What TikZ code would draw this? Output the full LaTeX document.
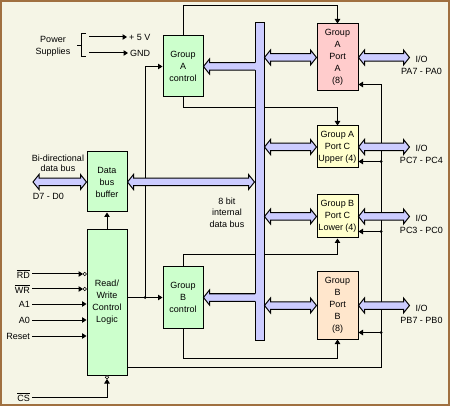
\documentclass[tikz,border=0pt]{standalone}
\usepackage{fontspec}
\setmainfont{Liberation Sans}
\usetikzlibrary{arrows.meta,calc,positioning}
\definecolor{paper}{RGB}{245,245,230}
\definecolor{framebrown}{RGB}{160,112,64}
\definecolor{ctlgreen}{RGB}{204,255,204}
\definecolor{portpink}{RGB}{255,204,204}
\definecolor{portyellow}{RGB}{255,255,204}
\definecolor{portpeach}{RGB}{255,230,204}
\definecolor{busblue}{RGB}{204,204,255}

\begin{document}
\begin{tikzpicture}[x=1pt, y=-1pt, font=\fontsize{9}{12}\selectfont,
    box/.style={draw, line width=1pt, minimum width=40pt, align=center, inner sep=1pt},
    port/.style={box, minimum width=41pt},
    wire/.style={line width=1pt},
    sig/.style={wire, -{Triangle[length=4.5pt,width=5.5pt]}},
    lbl/.style={inner sep=2pt, align=center},
    bubble/.style={circle, draw, fill=paper, inner sep=0pt, minimum size=3.5pt, line width=0.7pt},
    dot/.style={circle, fill, inner sep=0pt, minimum size=3pt}]
  \useasboundingbox (0,0) rectangle (450,406);
  \fill[paper] (0,0) rectangle (450,406);
  \draw[framebrown, line width=2pt] (1,1) rectangle (449,405);
  \newcommand{\biarrow}[2]{
    \filldraw[wire, fill=busblue] (#1) -- ($(#1)+(6,-7.5)$) -- ($(#1)+(6,-3.75)$) -- ($(#2)+(-6,-3.75)$) -- ($(#2)+(-6,-7.5)$)
      -- (#2) -- ($(#2)+(-6,7.5)$) -- ($(#2)+(-6,3.75)$) -- ($(#1)+(6,3.75)$) -- ($(#1)+(6,7.5)$) -- cycle;
  }
  \newcommand{\busarrow}[2]{
    \fill[busblue] ($(#1)+(2,-3.75)$) -- ($(#2)+(6,-3.75)$) -- ($(#2)+(6,-7.5)$) -- (#2) -- ($(#2)+(6,7.5)$) -- ($(#2)+(6,3.75)$) -- ($(#1)+(2,3.75)$) -- cycle;
    \draw[wire] ($(#1)+(0.5,-3.75)$) -- ($(#2)+(6,-3.75)$) -- ($(#2)+(6,-7.5)$) -- (#2) -- ($(#2)+(6,7.5)$) -- ($(#2)+(6,3.75)$) -- ($(#1)+(0.5,3.75)$);
  }
  \node[box, fill=ctlgreen, minimum height=61pt] (grpactl) at (183,66.5) {Group\\A\\control};
  \node[box, fill=ctlgreen, minimum height=61pt] (grpbctl) at (183,297.5) {Group\\B\\control};
  \node[box, fill=ctlgreen, minimum height=60pt] (buffer) at (107,182) {Data\\bus\\buffer};
  \node[box, fill=ctlgreen, minimum height=145pt] (rwlogic) at (107,302.5) {Read/\\Write\\Control\\Logic};
  \node[port, fill=portpink, minimum height=67pt] (portA) at (337.5,57.5) {Group\\A\\Port\\A\\(8)};
  \node[port, fill=portyellow, minimum height=42pt] (portCU) at (337.5,147) {Group A\\Port C\\Upper (4)};
  \node[port, fill=portyellow, minimum height=43pt] (portCL) at (337.5,216.5) {Group B\\Port C\\Lower (4)};
  \node[port, fill=portpeach, minimum height=67pt] (portB) at (337.5,305.5) {Group\\B\\Port\\B\\(8)};

  \draw[sig] (grpactl.north) -- ++(0,-30) -| (portA.north);
  \draw[sig] (grpactl.south) -- ++(0,10) -| (portCU.north);
  \draw[sig] (grpbctl.north) -- ++(0,-12) -| (portCL.south);
  \draw[sig] (grpbctl.south) -- ++(0,30) -| (portB.south);

  \coordinate (fork) at ($(rwlogic.east |- grpbctl.west)!0.5!(grpbctl.west)$);
  \draw[sig] (rwlogic.east |- grpbctl.west) -- (grpbctl.west);
  \draw[sig] (fork) |- (grpactl.west);
  \node[dot] at (fork) {};
  \draw[sig] (rwlogic.north) -- (buffer.south);

  \coordinate (ret) at (381,367);
  \draw[sig] (rwlogic.east |- ret) -- (ret) |- ($(portA.south east)+(0,-7)$);
  \foreach \p in {portCU, portCL, portB} {
    \coordinate (\p-in) at ($(\p.south east)+(0,-7)$);
    \draw[sig] (ret |- \p-in) -- (\p-in);
    \node[dot] at (ret |- \p-in) {};
  }

  \foreach \n/\t/\y/\gap in {rd/{$\overline{\mbox{RD}}$}/274/3.5, wr/{$\overline{\mbox{WR}}$}/289/3.5, aone/A1/304/0, azero/A0/320/0, reset/Reset/336/0} {
    \node[lbl, anchor=east] (\n) at (32,\y) {\t};
    \draw[sig] (\n) -- ($(\n -| rwlogic.west)+(-\gap,0)$);
  }
  \foreach \n in {rd, wr}
    \node[bubble] at ($(\n -| rwlogic.west)+(-1.75,0)$) {};
  \node[lbl, anchor=east] (cs) at (32,397) {$\overline{\mbox{CS}}$};
  \draw[sig] (cs) -| ($(rwlogic.south)+(0,3.5)$);
  \node[bubble] at ($(rwlogic.south)+(0,1.75)$) {};

  \node[lbl] (power) at (53,46) {Power\\Supplies};
  \draw[wire] (77,45.5) -- (81,45.5) (86,34) -- (81,34) -- (81,57) -- (86,57);
  \node[lbl, anchor=west] (plus5) at (127,37) {+ 5 V};
  \node[lbl, anchor=west] (gnd) at (128,53) {GND};
  \coordinate (vin) at (89,37);
  \coordinate (gin) at (89,53);
  \draw[sig] (vin) -- (plus5);
  \draw[sig] (gin) -- (gnd);

  \node[lbl, font=\fontsize{9}{10}\selectfont] (bidi) at (58,163) {Bi-directional\\data bus};
  \node[lbl] (dlines) at (48.5,196) {D7 - D0};
  \node[lbl, font=\fontsize{9}{11.5}\selectfont] (buslbl) at (227,212.5) {8 bit\\internal\\data bus};

  \node[draw, fill=busblue, line width=1pt, minimum width=9pt, minimum height=317pt, inner sep=0pt] (ibus) at (259.5,181.5) {};

  \coordinate (dext) at (33,182);
  \biarrow{dext}{buffer.west}
  \biarrow{buffer.east}{ibus.west |- buffer.east}
  \foreach \p/\t/\y in {portA/PA7 - PA0/65, portCU/PC7 - PC4/154, portCL/PC3 - PC0/224, portB/PB7 - PB0/314.5} {
    \coordinate (\p-io) at ($(\p.east)+(51,0)$);
    \biarrow{ibus.east |- \p.west}{\p.west}
    \biarrow{\p.east}{\p-io}
    \node[lbl] (\p-lbl) at (421.5,\y) {I/O\\\t};
  }
  \busarrow{ibus.west |- grpactl.east}{grpactl.east}
  \busarrow{ibus.west |- grpbctl.east}{grpbctl.east}
\end{tikzpicture}
\end{document}
